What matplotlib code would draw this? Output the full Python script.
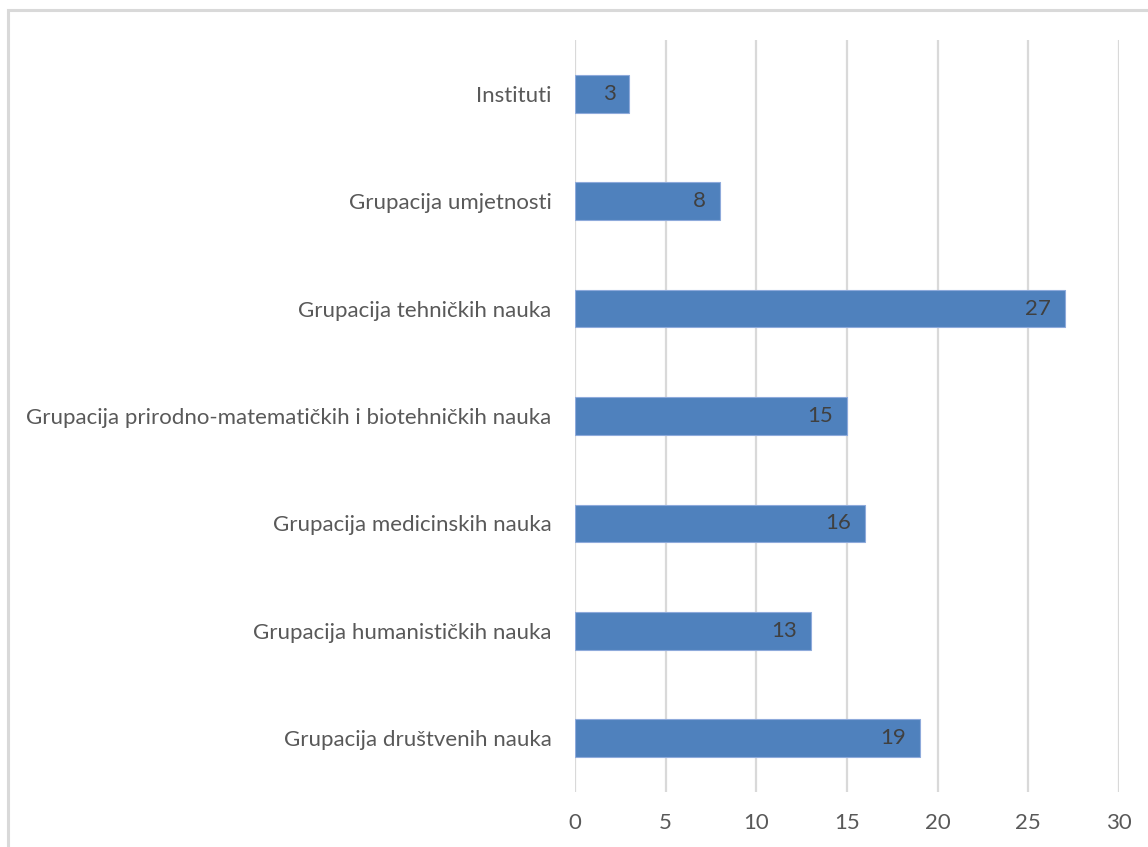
import matplotlib
matplotlib.use("Agg")
import matplotlib.pyplot as plt
from matplotlib.patches import Rectangle

categories = [
    "Grupacija društvenih nauka",
    "Grupacija humanističkih nauka",
    "Grupacija medicinskih nauka",
    "Grupacija prirodno-matematičkih i biotehničkih nauka",
    "Grupacija tehničkih nauka",
    "Grupacija umjetnosti",
    "Instituti",
]
values = [19, 13, 16, 15, 27, 8, 3]
xticks = [0, 5, 10, 15, 20, 25, 30]

plt.rcParams['font.family'] = ['Lato', 'DejaVu Sans']

W, H = 1148, 847
fig = plt.figure(figsize=(W / 100, H / 100), dpi=100)
fig.patch.set_facecolor('white')

# outer chart border (light gray), only top/left visible in reference
fig.patches.append(Rectangle((8 / W, -0.1), 1.2, 1.1 - 10 / H, transform=fig.transFigure,
                             fill=False, edgecolor='#D9D9D9', linewidth=2.2, zorder=0))

ax = fig.add_axes([575 / W, 1 - 792 / H, (1119 - 575) / W, (792 - 40) / H])
ypos = list(range(len(categories)))
bars = ax.barh(ypos, values, height=0.35, color='#4F81BD', edgecolor='#8EAADB', linewidth=0.8, zorder=3)

ax.set_xlim(0, 30)
ax.set_ylim(-0.5, len(categories) - 0.5)
ax.set_xticks(xticks)
ax.set_xticklabels([str(t) for t in xticks])
ax.set_yticks(ypos)
ax.set_yticklabels(categories)
ax.tick_params(axis='both', length=0, labelsize=16, labelcolor='#595959')
ax.tick_params(axis='y', pad=17)
ax.tick_params(axis='x', pad=15)

ax.grid(axis='x', color='#D9D9D9', linewidth=1.6, zorder=0)
for s in ax.spines.values():
    s.set_visible(False)

for b, v in zip(bars, values):
    ax.annotate(str(v), xy=(v, b.get_y() + b.get_height() / 2), xytext=(-10, 0),
                textcoords='offset points', ha='right', va='center',
                fontsize=16, color='#404040', zorder=4)

fig.savefig('out.png', dpi=100)
